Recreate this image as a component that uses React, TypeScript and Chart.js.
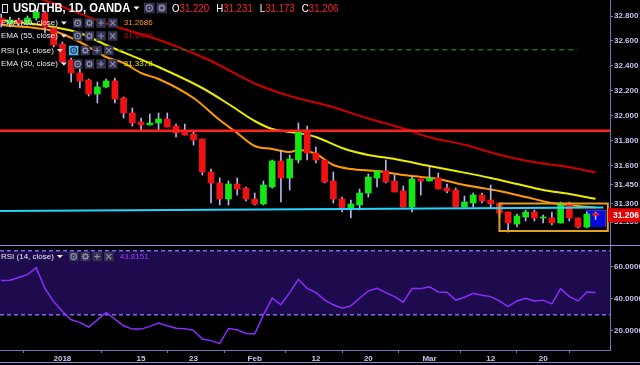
import { useEffect, useRef } from 'react';
import { Chart, registerables } from 'chart.js';

Chart.register(...registerables);

// ---------- data ----------
// bar index 0 = 21 Dec 2017 ... 68 = 28 Mar 2018 (trading days only)
const tickIdx = [7, 16, 22, 29, 36, 42, 49, 56, 62];
const tickLabels = ['2018', '15', '23', 'Feb', '12', '20', 'Mar', '12', '20'];

const opens = [
  32.784, 32.736, 32.768, 32.744, 32.784, 32.824, 32.704, 32.576, 32.448, 32.344,
  32.288, 32.176, 32.232, 32.280, 32.144, 32.024, 31.952, 31.928, 31.944, 31.976,
  31.920, 31.872, 31.856, 31.816, 31.552, 31.464, 31.336, 31.456, 31.424, 31.336,
  31.296, 31.432, 31.640, 31.504, 31.648, 31.880, 31.704, 31.648, 31.480, 31.336,
  31.264, 31.288, 31.384, 31.504, 31.560, 31.480, 31.400, 31.272, 31.496, 31.480,
  31.504, 31.424, 31.408, 31.272, 31.304, 31.368, 31.328, 31.304, 31.232, 31.136,
  31.192, 31.232, 31.184, 31.184, 31.144, 31.304, 31.184, 31.112, 31.220,
];
const highs = [
  32.816, 32.792, 32.784, 32.800, 32.856, 32.840, 32.720, 32.592, 32.464, 32.392,
  32.296, 32.272, 32.296, 32.304, 32.152, 32.064, 31.984, 32.016, 32.024, 32.024,
  31.936, 31.936, 31.872, 31.816, 31.576, 31.504, 31.480, 31.504, 31.432, 31.384,
  31.480, 31.648, 31.728, 31.688, 31.944, 31.920, 31.752, 31.648, 31.552, 31.352,
  31.328, 31.416, 31.536, 31.560, 31.648, 31.528, 31.440, 31.512, 31.496, 31.592,
  31.544, 31.456, 31.424, 31.360, 31.384, 31.384, 31.448, 31.304, 31.232, 31.216,
  31.248, 31.248, 31.208, 31.232, 31.312, 31.312, 31.184, 31.232, 31.231,
];
const lows = [
  32.712, 32.712, 32.720, 32.728, 32.768, 32.664, 32.552, 32.424, 32.272, 32.224,
  32.160, 32.104, 32.224, 32.104, 31.984, 31.920, 31.888, 31.928, 31.880, 31.912,
  31.832, 31.848, 31.768, 31.528, 31.304, 31.288, 31.288, 31.368, 31.320, 31.288,
  31.288, 31.424, 31.312, 31.408, 31.624, 31.648, 31.624, 31.464, 31.304, 31.232,
  31.184, 31.248, 31.352, 31.432, 31.464, 31.392, 31.272, 31.232, 31.368, 31.480,
  31.416, 31.384, 31.272, 31.272, 31.272, 31.304, 31.264, 31.192, 31.072, 31.112,
  31.160, 31.160, 31.144, 31.128, 31.144, 31.160, 31.104, 31.104, 31.173,
];
const closes = [
  32.736, 32.768, 32.744, 32.784, 32.832, 32.712, 32.568, 32.432, 32.344, 32.280,
  32.176, 32.232, 32.280, 32.136, 32.024, 31.944, 31.928, 31.944, 31.976, 31.912,
  31.864, 31.848, 31.808, 31.552, 31.464, 31.336, 31.456, 31.416, 31.336, 31.296,
  31.448, 31.640, 31.504, 31.656, 31.880, 31.704, 31.648, 31.472, 31.336, 31.264,
  31.296, 31.384, 31.512, 31.560, 31.472, 31.392, 31.272, 31.496, 31.480, 31.504,
  31.416, 31.400, 31.272, 31.312, 31.368, 31.320, 31.296, 31.224, 31.144, 31.200,
  31.232, 31.184, 31.192, 31.144, 31.304, 31.184, 31.112, 31.216, 31.206,
];

const rsi = [
  51.3, 51.5, 53.2, 55.0, 59.4, 46.5, 38.2, 32.0, 26.8, 25.2,
  22.3, 26.8, 31.4, 27.2, 23.1, 21.0, 21.0, 22.7, 24.8, 23.1,
  21.6, 21.2, 20.2, 14.8, 13.8, 11.9, 21.4, 20.6, 18.3, 17.9,
  29.9, 40.3, 36.2, 43.8, 52.1, 46.5, 43.8, 39.3, 36.2, 34.1,
  35.5, 40.3, 44.9, 46.5, 43.8, 41.3, 37.8, 46.3, 46.3, 47.4,
  44.2, 44.0, 39.1, 40.9, 43.4, 42.2, 41.3, 38.6, 35.1, 38.6,
  40.3, 38.6, 39.1, 36.8, 46.3, 41.3, 38.6, 44.2, 43.8151,
];

const ema20: [number, number][] = [
  [0, 32.728], [6, 32.68], [9, 32.592], [12, 32.472], [14, 32.424], [16, 32.344],
  [18, 32.296], [22, 32.144], [25, 31.968], [27, 31.864], [29, 31.76], [31, 31.736],
  [33, 31.712], [34, 31.728], [36, 31.696], [38, 31.608], [40, 31.576], [43, 31.56],
  [46, 31.528], [48, 31.512], [50, 31.496], [53, 31.448], [57, 31.40], [60, 31.352],
  [63, 31.304], [66, 31.28], [68, 31.2686],
];
const ema30: [number, number][] = [
  [0, 32.768], [6, 32.712], [9, 32.664], [12, 32.568], [18, 32.392], [23, 32.224],
  [26, 32.096], [29, 31.96], [31, 31.896], [34, 31.864], [36, 31.832], [39, 31.744],
  [42, 31.688], [45, 31.656], [49, 31.60], [52, 31.56], [56, 31.504], [59, 31.456],
  [62, 31.408], [65, 31.376], [68, 31.3378],
];
const ema55: [number, number][] = [
  [0, 33.04], [6, 32.90], [12, 32.74], [18, 32.61], [24, 32.44], [29, 32.26],
  [33, 32.16], [38, 32.07], [42, 31.98], [46, 31.90], [49, 31.83], [53, 31.77],
  [57, 31.69], [61, 31.63], [65, 31.59], [68, 31.5476],
];

const priceTicks = [31.15, 31.3, 31.45, 31.6, 31.8, 32.0, 32.2, 32.4, 32.6, 32.8];
const rsiTicks = [20, 40, 60];
const rsiBands = [30, 70];

// drawings
const hLevel = 31.883;
const hLevelX = [-1, 71];
const trendX = [-0.4, 68.9];
const trendY = [31.240, 31.268];
const boxX = [57.0, 69.4];
const boxY = [31.08, 31.30];
const dashLevel = 32.53;
const dashX = [13.4, 66.0];
const blueBoxX = 68.05;
const blueBoxY = [31.112, 31.248];

const legendRows = [
  { text: 'EMA (20, close)', value: '31.2686', color: '#ff9a00', y: 23 },
  { text: 'EMA (55, close)', value: '31.5476', color: '#cc0000', y: 36 },
  { text: 'RSI (14, close)', value: '', color: '#ffffff', y: 50.5 },
  { text: 'EMA (30, close)', value: '31.3378', color: '#e8e800', y: 64 },
];

const FONT = '"Liberation Sans", Arial, sans-serif';
const AXIS_TXT = '#c4c4ee';
const AXIS_LINE = '#7474b8';
const UP = '#12e812';
const DOWN = '#f01212';

function tri(ctx: CanvasRenderingContext2D, x: number, y: number) {
  ctx.beginPath();
  ctx.moveTo(x, y - 1.5);
  ctx.lineTo(x + 6, y - 1.5);
  ctx.lineTo(x + 3, y + 1.8);
  ctx.closePath();
  ctx.fill();
}

function icons(ctx: CanvasRenderingContext2D, x: number, y: number, n: number, size: number, pitch: number, hl: boolean) {
  const kinds = ['eye', 'gear', 'plus', 'x'];
  for (let i = 0; i < n; i++) {
    const bx = x + i * pitch;
    const by = y - size / 2;
    const h = hl && i === 0;
    ctx.fillStyle = h ? '#5ab6f2' : '#33334d';
    ctx.fillRect(bx, by, size, size);
    const c = h ? '#1c3c66' : '#8c8cae';
    ctx.strokeStyle = c;
    ctx.fillStyle = c;
    ctx.lineWidth = 1.2;
    const cx = bx + size / 2;
    const cy = y;
    const k = kinds[i];
    ctx.beginPath();
    if (k === 'eye') {
      ctx.arc(cx, cy, size * 0.3, 0, Math.PI * 2);
      ctx.stroke();
      ctx.beginPath();
      ctx.arc(cx, cy, size * 0.1, 0, Math.PI * 2);
      ctx.fill();
    } else if (k === 'gear') {
      ctx.arc(cx, cy, size * 0.22, 0, Math.PI * 2);
      ctx.stroke();
      ctx.beginPath();
      for (let a = 0; a < 8; a++) {
        const ang = (a * Math.PI) / 4;
        ctx.moveTo(cx + Math.cos(ang) * size * 0.22, cy + Math.sin(ang) * size * 0.22);
        ctx.lineTo(cx + Math.cos(ang) * size * 0.38, cy + Math.sin(ang) * size * 0.38);
      }
      ctx.stroke();
    } else if (k === 'plus') {
      ctx.moveTo(cx - size * 0.3, cy);
      ctx.lineTo(cx + size * 0.3, cy);
      ctx.moveTo(cx, cy - size * 0.3);
      ctx.lineTo(cx, cy + size * 0.3);
      ctx.stroke();
    } else {
      const d = size * 0.27;
      ctx.moveTo(cx - d, cy - d);
      ctx.lineTo(cx + d, cy + d);
      ctx.moveTo(cx + d, cy - d);
      ctx.lineTo(cx - d, cy + d);
      ctx.stroke();
    }
  }
}

function legendRow(ctx: CanvasRenderingContext2D, text: string, y: number, value: string, color: string, hl: boolean) {
  ctx.font = `8px ${FONT}`;
  ctx.textBaseline = 'middle';
  ctx.textAlign = 'left';
  ctx.fillStyle = '#e8e8f2';
  ctx.fillText(text, 1, y);
  const w = ctx.measureText(text).width;
  ctx.fillStyle = '#e8e8f2';
  tri(ctx, 1 + w + 3, y);
  const ix = 1 + w + 15;
  icons(ctx, ix, y, 4, 9.5, 11.7, hl);
  if (value) {
    ctx.font = `8px ${FONT}`;
    ctx.fillStyle = color;
    ctx.fillText(value, ix + 4 * 11.7 + 4, y);
  }
}

const overlay = {
  id: 'overlay',
  beforeDatasetsDraw(chart: any) {
    const { ctx, chartArea: a, scales } = chart;
    const yR = scales.yR;
    const y70 = yR.getPixelForValue(rsiBands[1]);
    const y30 = yR.getPixelForValue(rsiBands[0]);
    ctx.save();
    ctx.fillStyle = '#1d0b4e';
    ctx.fillRect(a.left, y70, a.right - a.left, y30 - y70);
    ctx.strokeStyle = '#7d68f0';
    ctx.setLineDash([4, 3]);
    ctx.lineWidth = 1.5;
    for (const y of [y70, y30]) {
      ctx.beginPath();
      ctx.moveTo(a.left, y);
      ctx.lineTo(a.right, y);
      ctx.stroke();
    }
    ctx.restore();
  },
  afterDraw(chart: any) {
    const { ctx, chartArea: a, scales } = chart;
    const W = chart.width;
    ctx.save();
    ctx.strokeStyle = '#8a8ad0';
    ctx.lineWidth = 1;
    const sep = Math.round(scales.yR.top) + 0.5;
    ctx.beginPath();
    ctx.moveTo(0, sep);
    ctx.lineTo(W, sep);
    ctx.stroke();
    ctx.strokeStyle = AXIS_LINE;
    ctx.beginPath();
    ctx.moveTo(0, Math.round(a.bottom) + 0.5);
    ctx.lineTo(a.right, Math.round(a.bottom) + 0.5);
    ctx.stroke();
    ctx.strokeStyle = '#8a8ad0';
    ctx.beginPath();
    ctx.moveTo(0, 362.5);
    ctx.lineTo(W, 362.5);
    ctx.stroke();

    // last price label
    const py = scales.y.getPixelForValue(closes[closes.length - 1]);
    ctx.fillStyle = '#e20000';
    ctx.fillRect(a.right - 2, py - 7, W - a.right + 2, 14);
    ctx.fillStyle = '#ffffff';
    ctx.font = `bold 8.5px ${FONT}`;
    ctx.textBaseline = 'middle';
    ctx.textAlign = 'left';
    ctx.fillText(closes[closes.length - 1].toFixed(3), a.right + 3, py + 0.5);

    // top-left icon
    ctx.strokeStyle = '#e0e0e0';
    ctx.lineWidth = 1;
    ctx.strokeRect(2.5, 4.5, 5, 8);

    // title row
    ctx.save();
    ctx.translate(13, 8.5);
    ctx.scale(0.93, 1);
    ctx.font = `bold 12px ${FONT}`;
    ctx.fillStyle = '#ffffff';
    ctx.fillText('USD/THB, 1D, OANDA', 0, 0);
    ctx.restore();
    ctx.fillStyle = '#ffffff';
    tri(ctx, 133.5, 8);
    icons(ctx, 144, 8, 2, 10.5, 12.5, false);

    ctx.save();
    ctx.translate(172, 8.5);
    ctx.scale(0.88, 1);
    ctx.font = `11px ${FONT}`;
    let x = 0;
    const parts: [string, string][] = [
      ['O', opens[opens.length - 1].toFixed(3)],
      ['H', highs[highs.length - 1].toFixed(3)],
      ['L', lows[lows.length - 1].toFixed(3)],
      ['C', closes[closes.length - 1].toFixed(3)],
    ];
    for (const [k, v] of parts) {
      ctx.fillStyle = '#ffffff';
      ctx.fillText(k, x, 0);
      x += ctx.measureText(k).width;
      ctx.fillStyle = '#ff2424';
      ctx.fillText(v, x, 0);
      x += ctx.measureText(v).width + 8;
    }
    ctx.restore();

    legendRows.forEach((r, i) => legendRow(ctx, r.text, r.y, r.value, r.color, i === 2));
    legendRow(ctx, 'RSI (14, close)', 256.5, rsi[rsi.length - 1].toFixed(4), '#9a3cff', false);
    ctx.restore();
  },
};

function zeroPad(s: any) {
  s.paddingTop = 0;
  s.paddingBottom = 0;
  s.paddingLeft = 0;
  s.paddingRight = 0;
}

export default function App() {
  const ref = useRef<HTMLCanvasElement>(null);
  useEffect(() => {
    const canvas = ref.current;
    if (!canvas) return;
    const bodyColors = opens.map((o, i) => (closes[i] >= o ? UP : DOWN));
    const line = (pts: [number, number][], color: string, order: number) => ({
      type: 'line' as const,
      data: pts.map(([x, y]) => ({ x, y })),
      borderColor: color,
      borderWidth: 2,
      pointRadius: 0,
      fill: false,
      cubicInterpolationMode: 'monotone' as const,
      yAxisID: 'y',
      order,
    });
    const chart = new Chart(canvas, {
      type: 'bar',
      data: {
        datasets: [
          {
            type: 'line',
            data: hLevelX.map((x) => ({ x, y: hLevel })),
            borderColor: '#ff2020',
            borderWidth: 2.5,
            pointRadius: 0,
            yAxisID: 'y',
            order: 0,
          } as any,
          {
            type: 'line',
            data: trendX.map((x, i) => ({ x, y: trendY[i] })),
            borderColor: '#22d4ff',
            borderWidth: 2,
            pointRadius: 0,
            yAxisID: 'y',
            order: 0,
          } as any,
          {
            type: 'line',
            data: [
              { x: boxX[0], y: boxY[1] },
              { x: boxX[1], y: boxY[1] },
              { x: boxX[1], y: boxY[0] },
              { x: boxX[0], y: boxY[0] },
              { x: boxX[0], y: boxY[1] },
            ],
            borderColor: '#e0a020',
            borderWidth: 2,
            pointRadius: 0,
            yAxisID: 'y',
            order: 0,
          } as any,
          {
            type: 'line',
            data: dashX.map((x) => ({ x, y: dashLevel })),
            borderColor: '#1f6e1f',
            borderWidth: 1.5,
            borderDash: [5, 4],
            pointRadius: 0,
            yAxisID: 'y',
            order: 0,
          } as any,
          {
            type: 'bar',
            data: opens.map((o, i) => ({ x: i, y: [o, closes[i]] })),
            backgroundColor: bodyColors,
            borderWidth: 0,
            barThickness: 6,
            minBarLength: 1,
            grouped: false,
            yAxisID: 'y',
            order: 1,
          } as any,
          {
            type: 'bar',
            data: lows.map((l, i) => ({ x: i, y: [l, highs[i]] })),
            backgroundColor: '#b4b4f0',
            borderWidth: 0,
            barThickness: 1,
            grouped: false,
            yAxisID: 'y',
            order: 2,
          } as any,
          line(ema20, '#ff9a00', 3),
          line(ema30, '#ecec00', 3),
          line(ema55, '#cc0000', 3),
          {
            type: 'bar',
            data: [{ x: blueBoxX, y: blueBoxY }],
            backgroundColor: '#0808d8',
            borderColor: '#3a3aff',
            borderWidth: 1,
            barThickness: 20,
            grouped: false,
            yAxisID: 'y',
            order: 4,
          } as any,
          {
            type: 'line',
            data: rsi.map((v, i) => ({ x: i, y: v })),
            borderColor: '#8e2cff',
            borderWidth: 1.5,
            pointRadius: 0,
            tension: 0,
            yAxisID: 'yR',
            order: 0,
          } as any,
        ],
      },
      options: {
        animation: false,
        responsive: false,
        devicePixelRatio: 1,
        events: [],
        layout: { padding: 0, autoPadding: false } as any,
        plugins: { legend: { display: false }, tooltip: { enabled: false } },
        scales: {
          x: {
            type: 'linear',
            position: 'bottom',
            min: -0.14,
            max: 69.65,
            offset: false,
            grid: { display: true, drawOnChartArea: false, drawTicks: true, tickLength: 3, color: AXIS_LINE },
            border: { display: false },
            ticks: {
              autoSkip: false,
              maxRotation: 0,
              padding: 1,
              color: AXIS_TXT,
              font: { size: 8, weight: 'bold', family: FONT },
              callback: (_v: any, i: number) => tickLabels[i] ?? '',
            },
            afterBuildTicks: (s: any) => {
              s.ticks = tickIdx.map((v) => ({ value: v }));
            },
            afterFit: (s: any) => {
              s.height = 15;
              zeroPad(s);
            },
          },
          y: {
            type: 'linear',
            position: 'right',
            stack: 'panes',
            stackWeight: 245,
            min: 30.968,
            max: 32.928,
            grid: { display: true, drawOnChartArea: false, drawTicks: true, tickLength: 3, color: AXIS_LINE },
            border: { display: true, color: AXIS_LINE, width: 1 },
            ticks: {
              padding: 1,
              color: AXIS_TXT,
              font: { size: 8, weight: 'bold', family: FONT },
              callback: (v: any) => Number(v).toFixed(3),
            },
            afterBuildTicks: (s: any) => {
              s.ticks = priceTicks.map((v) => ({ value: v }));
            },
            afterFit: (s: any) => {
              s.width = 30;
              zeroPad(s);
            },
          } as any,
          yR: {
            type: 'linear',
            position: 'right',
            stack: 'panes',
            stackWeight: 105,
            min: 7.94,
            max: 73.56,
            grid: { display: true, drawOnChartArea: false, drawTicks: true, tickLength: 3, color: AXIS_LINE },
            border: { display: true, color: AXIS_LINE, width: 1 },
            ticks: {
              padding: 1,
              color: AXIS_TXT,
              font: { size: 8, weight: 'bold', family: FONT },
              callback: (v: any) => Number(v).toFixed(4),
            },
            afterBuildTicks: (s: any) => {
              s.ticks = rsiTicks.map((v) => ({ value: v }));
            },
            afterFit: (s: any) => {
              s.width = 30;
              zeroPad(s);
            },
          } as any,
        },
      },
      plugins: [overlay],
    } as any);
    return () => chart.destroy();
  }, []);

  return (
    <div style={{ position: 'fixed', left: 0, top: 0, width: 640, height: 365, background: '#000' }}>
      <canvas ref={ref} width={640} height={365} style={{ display: 'block' }} />
    </div>
  );
}
